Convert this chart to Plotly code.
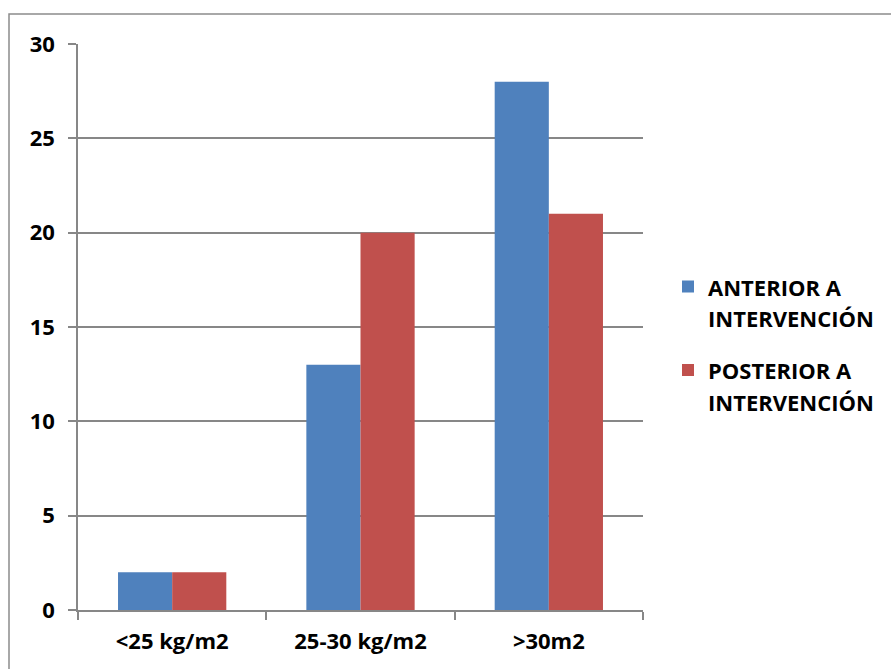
import plotly.graph_objects as go

categories = ["<25 kg/m2", "25-30 kg/m2", ">30m2"]
anterior = [2, 13, 28]
posterior = [2, 20, 21]
series_names = [["ANTERIOR A", "INTERVENCIÓN"], ["POSTERIOR A", "INTERVENCIÓN"]]
y_ticks = [0, 5, 10, 15, 20, 25, 30]

BLUE = "#4F81BD"
RED = "#C0504D"
GRID = "#878787"
FONT = "Open Sans"
TXT = 22


def legend_name(lines):
    return "<br>".join(f'<span style="font-size:{TXT}px"><b>{l}</b></span>' for l in lines)


fig = go.Figure()
fig.add_trace(go.Bar(x=categories, y=anterior, name=legend_name(series_names[0]),
                     legendgroup="a", marker=dict(color=BLUE, line=dict(width=0))))
fig.add_trace(go.Bar(x=categories, y=posterior, name=legend_name(series_names[1]),
                     legendgroup="b", marker=dict(color=RED, line=dict(width=0))))

fig.update_layout(
    width=891, height=669,
    margin=dict(l=78, r=248, t=44, b=59),
    paper_bgcolor="white", plot_bgcolor="white",
    barmode="group", bargap=0.425, bargroupgap=0,
    font=dict(family=FONT, size=TXT, color="black"),
    legend=dict(x=(668 - 78) / 565, xanchor="left", xref="paper", y=0.47, yanchor="middle",
                valign="top", tracegroupgap=18, itemwidth=30,
                font=dict(family=FONT, size=24, color="black"),
                bgcolor="rgba(0,0,0,0)"),
    xaxis=dict(showline=True, linecolor=GRID, linewidth=1.5,
               ticks="outside", tickson="boundaries", ticklen=8, tickcolor=GRID, tickwidth=1.5,
               showgrid=False, ticklabelstandoff=11,
               tickfont=dict(family=FONT, size=TXT, weight="bold")),
    yaxis=dict(range=[0, 30], tickvals=y_ticks, showline=True, linecolor=GRID, linewidth=1.5,
               ticks="outside", ticklen=8, tickcolor=GRID, tickwidth=1.5,
               showgrid=True, gridcolor=GRID, gridwidth=1.5, zeroline=False,
               ticklabelstandoff=9,
               tickfont=dict(family=FONT, size=TXT, weight="bold")),
    shapes=[dict(type="rect", xref="paper", yref="paper",
                 x0=(9 - 78) / 565, x1=2.0, y0=-0.3, y1=(610 - 14) / 566,
                 line=dict(color="#8c8c8c", width=1.5), fillcolor="rgba(0,0,0,0)")],
)

fig.write_html("out.html")
